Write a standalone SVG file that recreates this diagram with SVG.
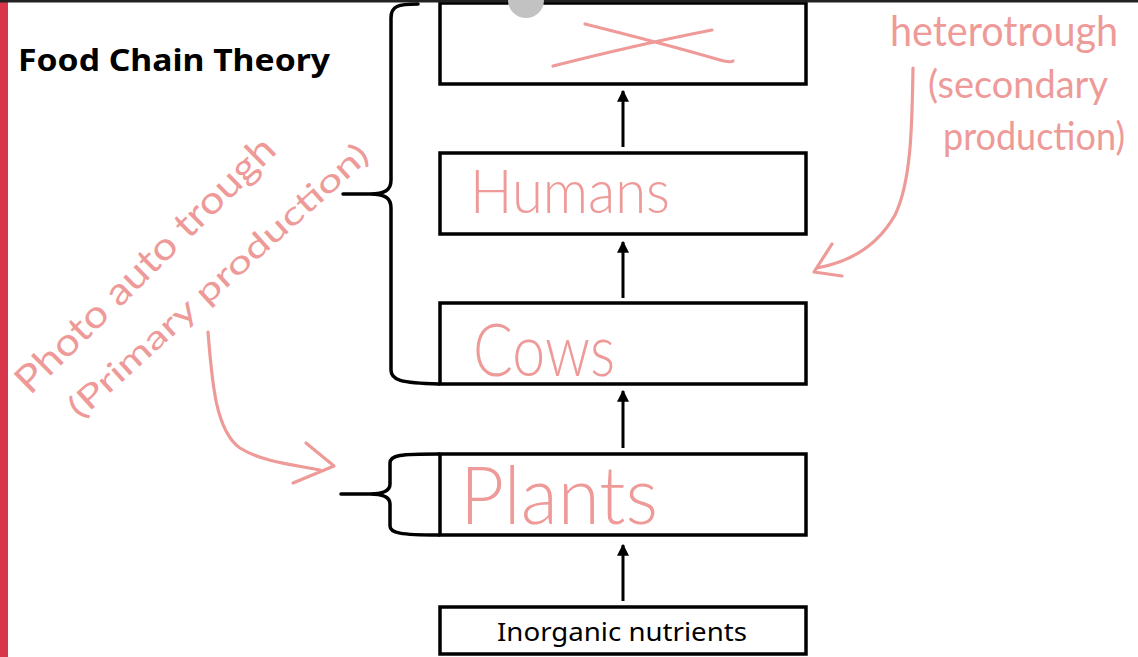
<svg xmlns="http://www.w3.org/2000/svg" width="1138" height="657" viewBox="0 0 1138 657">
<style>
.box{fill:#fff;stroke:#000;stroke-width:3.5}
.arr{stroke:#000;stroke-width:3;fill:none}
.brace{stroke:#000;stroke-width:3.5;fill:none;stroke-linecap:round}
.ink{stroke:#ee9a98;stroke-width:3.2;fill:none;stroke-linecap:round;stroke-linejoin:round}
.hand{fill:#ee9a98;font-family:Lato,'Open Sans','Liberation Sans',sans-serif;font-weight:300}
.note{font-weight:400}
</style>
<defs>
<marker id="ah" viewBox="0 0 10 10" refX="9" refY="5" markerWidth="4" markerHeight="4" orient="auto" markerUnits="strokeWidth">
<path d="M0,0 L10,5 L0,10 z" fill="#000"/>
</marker>
</defs>
<rect x="0" y="0" width="1138" height="657" fill="#fff"/>
<rect x="0" y="2" width="8" height="655" fill="#d8364a"/>
<text x="18" y="71" font-family="'Noto Sans','Liberation Sans',sans-serif" font-weight="bold" font-size="31" textLength="312" lengthAdjust="spacingAndGlyphs" fill="#000">Food Chain Theory</text>

<g id="node-top">
<rect class="box" x="440" y="3" width="366" height="81"/>
<path class="ink" d="M585,24 Q665,44 720,60 Q730,63 733,61"/>
<path class="ink" d="M553,66 Q640,44 712,30"/>
</g>
<g id="node-humans">
<rect class="box" x="440" y="153" width="366" height="81"/>
<text class="hand" x="470" y="213" font-size="62" textLength="200" lengthAdjust="spacingAndGlyphs">Humans</text>
</g>
<g id="node-cows">
<rect class="box" x="440" y="303" width="366" height="81"/>
<text class="hand" x="473" y="376" font-size="72" textLength="142" lengthAdjust="spacingAndGlyphs">Cows</text>
</g>
<g id="node-plants">
<rect class="box" x="440" y="454" width="366" height="81"/>
<text class="hand" x="460" y="524" font-size="80" textLength="198" lengthAdjust="spacingAndGlyphs">Plants</text>
</g>
<g id="node-inorganic">
<rect class="box" x="440" y="607" width="366" height="47"/>
<text x="497" y="641" font-family="'Noto Sans','Liberation Sans',sans-serif" font-size="25" textLength="250" lengthAdjust="spacingAndGlyphs" fill="#000">Inorganic nutrients</text>
</g>

<g id="connectors">
<line class="arr" x1="623" y1="147" x2="623" y2="91" marker-end="url(#ah)"/>
<line class="arr" x1="623" y1="298" x2="623" y2="242" marker-end="url(#ah)"/>
<line class="arr" x1="623" y1="448" x2="623" y2="391" marker-end="url(#ah)"/>
<line class="arr" x1="623" y1="601" x2="623" y2="545" marker-end="url(#ah)"/>
</g>

<g id="braces">
<path class="brace" d="M418,4 C398,4 391,6 391,18 L391,180 C391,190 385,194 370,194 L343,194 M370,194 C385,194 391,198 391,208 L391,370 C391,380 400,383 439,384"/>
<path class="brace" d="M439,454 C400,454 390,455 390,463 L390,484 C390,490 384,494 370,494 L341,494 M370,494 C384,494 390,498 390,504 L390,526 C390,533 400,535 439,535"/>
</g>

<g id="annotations">
<text class="hand note" font-size="38" transform="translate(30,396) rotate(-44.5)" textLength="348" lengthAdjust="spacingAndGlyphs">Photo auto trough</text>
<text class="hand note" font-size="32" transform="translate(80,420) rotate(-42)" textLength="392" lengthAdjust="spacingAndGlyphs">(Primary production)</text>
<text class="hand note" font-size="42" x="890" y="46" textLength="228" lengthAdjust="spacingAndGlyphs">heterotrough</text>
<text class="hand note" font-size="38" x="928" y="98" textLength="180" lengthAdjust="spacingAndGlyphs">(secondary</text>
<text class="hand note" font-size="38" x="943" y="150" textLength="182" lengthAdjust="spacingAndGlyphs">production)</text>
<path class="ink" d="M913,68 C912,120 912,180 895,215 C878,245 850,262 817,268"/>
<path class="ink" d="M832,244 L814,272 L842,276"/>
<path class="ink" d="M208,332 C212,380 215,430 240,448 C262,462 295,465 320,470"/>
<path class="ink" d="M306,443 L334,466 L293,483"/>
</g>
<rect x="0" y="0" width="1138" height="2.5" fill="#222"/>
<circle cx="526" cy="0" r="18" fill="#c2c2c2"/>
</svg>
